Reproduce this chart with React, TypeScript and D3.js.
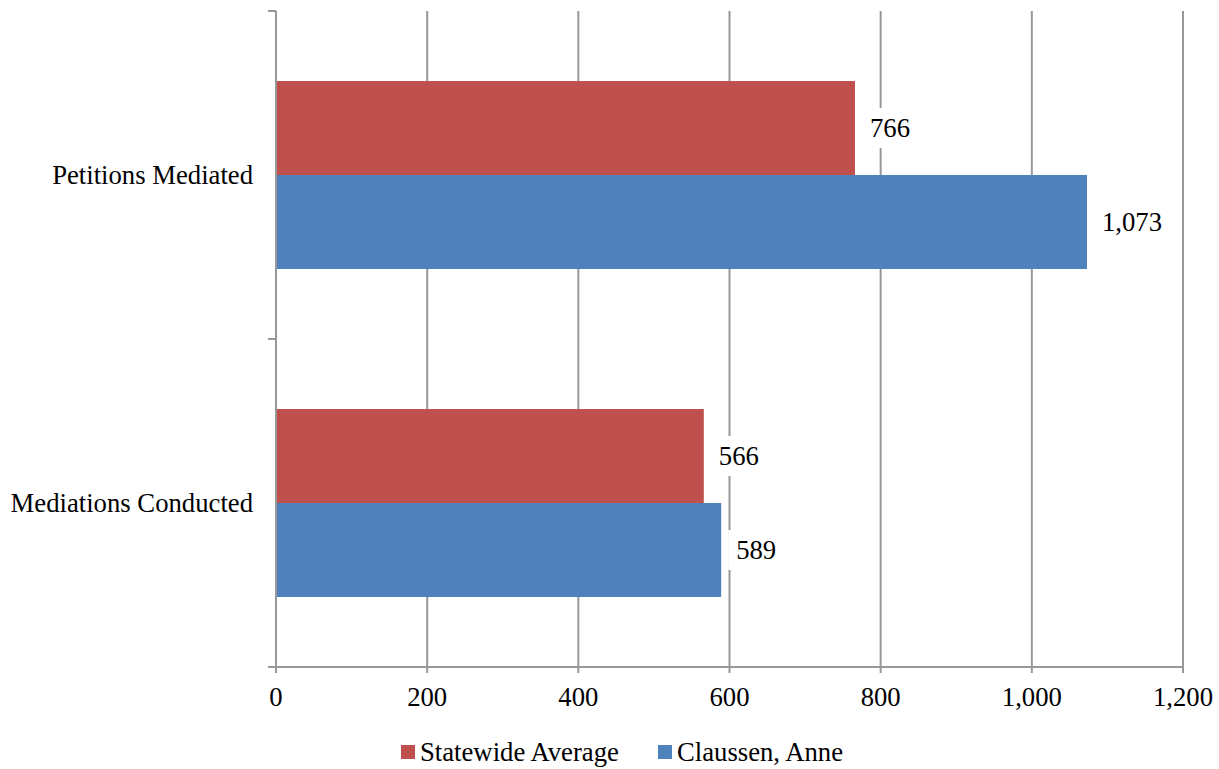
import React from "react";
import * as d3 from "d3";

const categories = ["Petitions Mediated", "Mediations Conducted"];
const seriesNames = ["Statewide Average", "Claussen, Anne"];
const statewide = [766, 566];
const claussen = [1073, 589];
const xTicks = [0, 200, 400, 600, 800, 1000, 1200];
const colors = ["#C0504D", "#4F81BD"];

const W = 1219;
const H = 769;
const left = 276;
const right = 1183;
const top = 11;
const bottom = 667;
const FONT = "'Liberation Serif', 'Times New Roman', serif";
const FS = 26.7;
const GRID = "#989898";

export default function App() {
  const x = d3.scaleLinear().domain([0, 1200]).range([left, right]);
  const y0 = d3.scaleBand<string>().domain(categories).range([top, bottom]).paddingInner(0).paddingOuter(0);
  const y1 = d3
    .scaleBand<string>()
    .domain(seriesNames)
    .range([0, y0.bandwidth()])
    .paddingInner(0)
    .paddingOuter(0.745);
  const fmt = d3.format(",");
  const series = [statewide, claussen];

  return (
    <svg
      width={W}
      height={H}
      style={{ position: "absolute", left: 0, top: 0, background: "#fff" }}
      fontFamily={FONT}
    >
      {/* grid lines */}
      {xTicks.slice(1).map((t) => (
        <line key={t} x1={x(t)} x2={x(t)} y1={top} y2={bottom + 6} stroke={GRID} strokeWidth={2} />
      ))}
      {/* bars */}
      {categories.map((c, ci) =>
        series.map((s, si) => {
          const yy = (y0(c) as number) + (y1(seriesNames[si]) as number);
          return (
            <rect
              key={c + si}
              x={x(0)}
              y={yy}
              width={x(s[ci]) - x(0)}
              height={y1.bandwidth()}
              fill={colors[si]}
            />
          );
        })
      )}
      {/* axes */}
      <line x1={left} x2={left} y1={top} y2={bottom + 6} stroke={GRID} strokeWidth={2} />
      <line x1={left - 8} x2={right} y1={bottom} y2={bottom} stroke={GRID} strokeWidth={2} />
      {[top, top + y0.bandwidth(), bottom].map((v, i) => (
        <line key={i} x1={left - 8} x2={left} y1={v} y2={v} stroke={GRID} strokeWidth={2} />
      ))}
      {/* x tick labels */}
      {xTicks.map((t) => (
        <text key={t} x={x(t)} y={706} fontSize={FS} textAnchor="middle" fill="#000">
          {fmt(t)}
        </text>
      ))}
      {/* category labels */}
      {categories.map((c) => (
        <text
          key={c}
          x={253}
          y={(y0(c) as number) + y0.bandwidth() / 2 + 9}
          fontSize={FS}
          textAnchor="end"
          fill="#000"
        >
          {c}
        </text>
      ))}
      {/* data labels */}
      {categories.map((c, ci) =>
        series.map((s, si) => {
          const cy = (y0(c) as number) + (y1(seriesNames[si]) as number) + y1.bandwidth() / 2;
          const label = fmt(s[ci]);
          const tw = label.length * 13.3 - (label.includes(",") ? 6.5 : 0);
          const tx = x(s[ci]) + 15;
          return (
            <g key={c + "l" + si}>
              <rect x={tx - 8} y={cy - 20} width={tw + 16} height={40} fill="#fff" />
              <text x={tx} y={cy + 9} fontSize={FS} fill="#000">
                {label}
              </text>
            </g>
          );
        })
      )}
      {/* legend */}
      <g>
        <rect x={401} y={745} width={14} height={14} fill={colors[0]} />
        <text x={420} y={761} fontSize={FS} fill="#000">
          {seriesNames[0]}
        </text>
        <rect x={658} y={745} width={14} height={14} fill={colors[1]} />
        <text x={677} y={761} fontSize={FS} fill="#000">
          {seriesNames[1]}
        </text>
      </g>
    </svg>
  );
}
